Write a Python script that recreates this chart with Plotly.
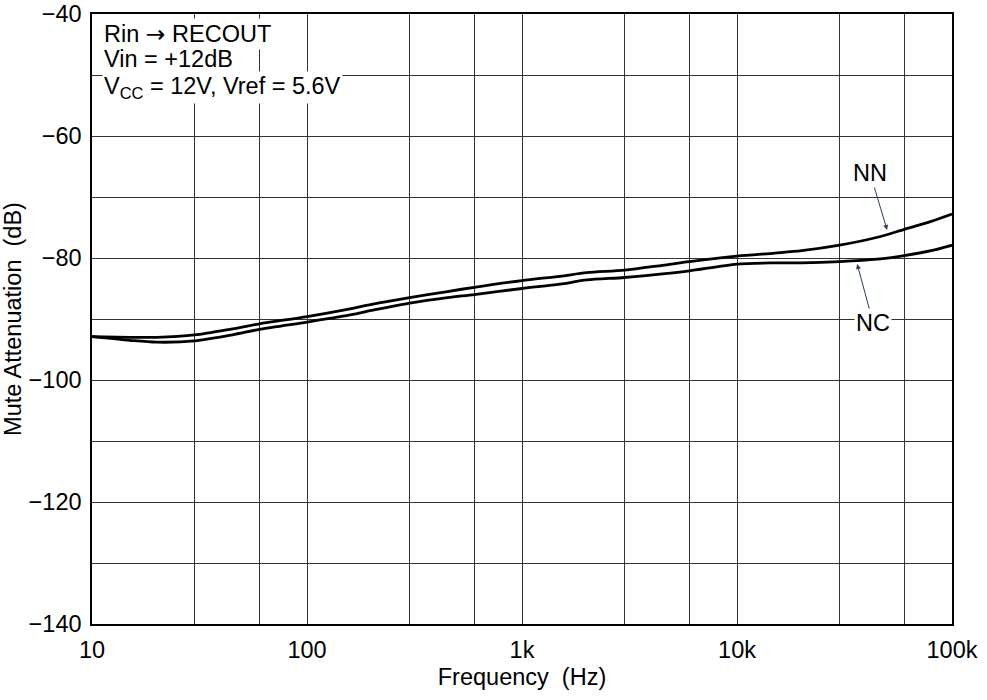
import plotly.graph_objects as go

freq = [10, 15, 20, 30, 45, 60, 100, 150, 200, 300, 450, 600, 1000, 1500, 2000,
        3000, 4500, 6000, 10000, 15000, 20000, 30000, 45000, 60000, 80000, 100000]
nn = [-92.9, -93.0, -93.0, -92.6, -91.6, -90.8, -89.6, -88.5, -87.6, -86.5, -85.5,
      -84.8, -83.7, -83.0, -82.4, -82.0, -81.2, -80.6, -79.7, -79.2, -78.8, -77.9,
      -76.6, -75.3, -74.0, -72.8]
nc = [-92.9, -93.5, -93.8, -93.6, -92.6, -91.7, -90.5, -89.5, -88.6, -87.4, -86.5,
      -86.0, -85.0, -84.3, -83.6, -83.2, -82.6, -82.1, -81.0, -80.8, -80.8, -80.6,
      -80.2, -79.6, -78.8, -77.9]

x_grid = [10, 30, 60, 100, 300, 600, 1000, 3000, 6000, 10000, 30000, 60000, 100000]
x_labels = ["10", "", "", "100", "", "", "1k", "", "", "10k", "", "", "100k"]
y_grid = [-140, -130, -120, -110, -100, -90, -80, -70, -60, -50, -40]
y_labels = ["−140", "", "−120", "", "−100", "", "−80", "", "−60", "", "−40"]

FONT = "Liberation Sans, Arial, sans-serif"
FS = 23.5

fig = go.Figure()
fig.add_trace(go.Scatter(x=freq, y=nn, mode="lines", name="NN",
                         line=dict(color="black", width=2.8, shape="spline", smoothing=0.8)))
fig.add_trace(go.Scatter(x=freq, y=nc, mode="lines", name="NC",
                         line=dict(color="black", width=2.8, shape="spline", smoothing=0.8)))

fig.update_layout(
    width=987, height=700,
    margin=dict(l=92, r=35, t=14, b=76),
    paper_bgcolor="white", plot_bgcolor="white",
    showlegend=False,
    font=dict(family=FONT, size=FS, color="black"),
    xaxis=dict(type="log", range=[1, 5], tickvals=x_grid, ticktext=x_labels,
               showgrid=True, gridcolor="#333333", gridwidth=1,
               showline=True, linecolor="black", linewidth=1.5, mirror=True,
               ticks="", ticklabelstandoff=4, automargin=False,
               title=dict(text="Frequency  (Hz)", standoff=7,
                          font=dict(size=FS))),
    yaxis=dict(range=[-140, -40], tickvals=y_grid, ticktext=y_labels,
               showgrid=True, gridcolor="#333333", gridwidth=1,
               showline=True, linecolor="black", linewidth=1.5, mirror=True,
               ticks="", ticklabelstandoff=4, zeroline=False, automargin=False,
               title=dict(text="Mute Attenuation  (dB)", standoff=0,
                          font=dict(size=FS))),
)

ARROW = '<span style="font-family:DejaVu Sans">→</span>'
anns = [
    dict(text="Rin " + ARROW + " RECOUT", y=0.968),
    dict(text="Vin = +12dB", y=0.926),
    dict(text="V<sub>CC</sub> = 12V, Vref = 5.6V", y=0.880),
]
for a in anns:
    fig.add_annotation(x=0.012, y=a["y"], xref="paper", yref="paper",
                       text=a["text"], showarrow=False, xanchor="left", yanchor="middle",
                       bgcolor="white", borderpad=1, font=dict(size=FS, family=FONT))

# curve labels
fig.add_annotation(x=4.698, y=-75.4, xref="x", yref="y", text="NN",
                   showarrow=True, arrowhead=2, arrowsize=1, arrowwidth=1,
                   ax=-17, ay=-57, bgcolor="white", font=dict(size=FS, family=FONT))
fig.add_annotation(x=4.559, y=-81.0, xref="x", yref="y", text="NC",
                   showarrow=True, arrowhead=2, arrowsize=1, arrowwidth=1,
                   ax=16, ay=59, bgcolor="white", font=dict(size=FS, family=FONT))

fig.write_html("out.html", config={"displayModeBar": False},
               post_script="document.body.style.margin='0';")
